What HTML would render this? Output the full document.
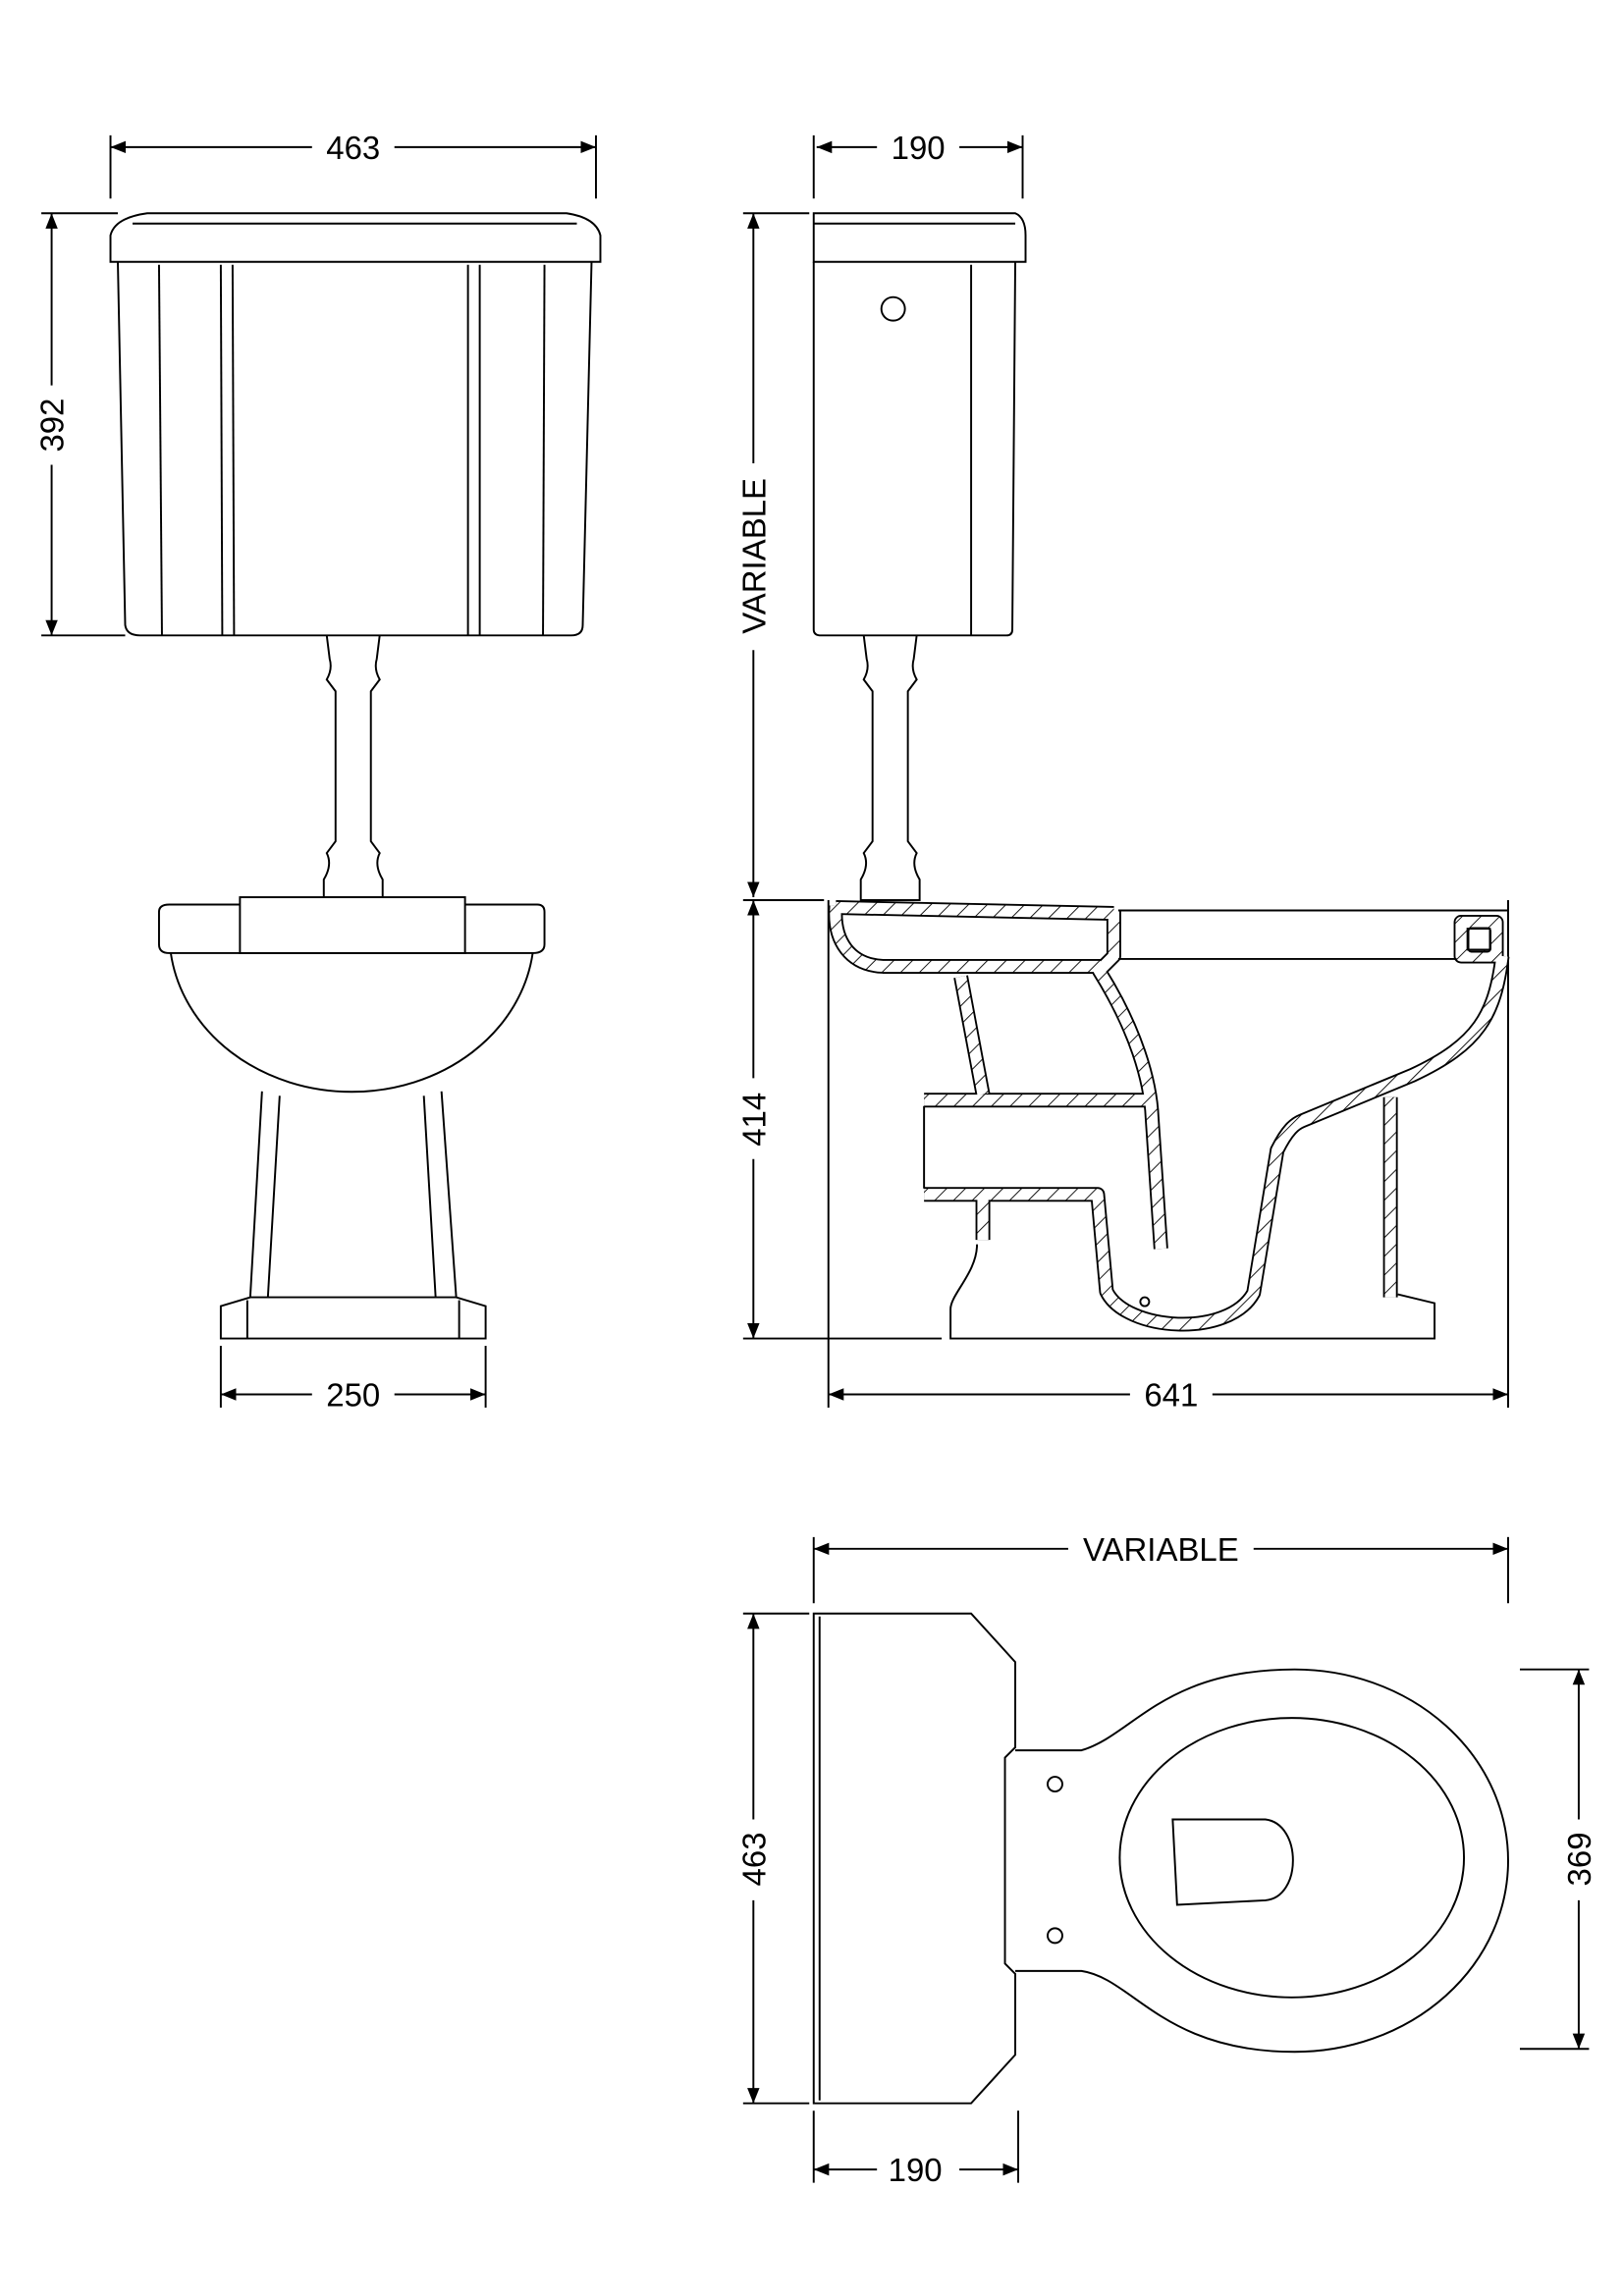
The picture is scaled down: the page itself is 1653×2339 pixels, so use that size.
<!DOCTYPE html>
<html><head><meta charset="utf-8"><style>html,body{margin:0;padding:0;background:#fff}svg{display:block}</style></head>
<body>
<svg width="1653" height="2339" viewBox="0 0 1103 1561" xmlns="http://www.w3.org/2000/svg" font-family="Liberation Sans, sans-serif" font-size="22">
<defs>
<pattern id="h" width="9" height="9" patternUnits="userSpaceOnUse" patternTransform="rotate(45)">
<rect width="9" height="9" fill="#fff"/><line x1="0" y1="0" x2="0" y2="9" stroke="#000" stroke-width="1.2"/>
</pattern>
<marker id="a" viewBox="0 0 10 10" refX="10" refY="5" markerWidth="8" markerHeight="8" orient="auto-start-reverse"><path d="M0,1 L10,5 L0,9" fill="#000"/></marker>
</defs>
<g fill="none" stroke="#000" stroke-width="1.3">
<!-- dimension lines -->
<g marker-start="url(#a)" marker-end="url(#a)">
<line x1="75" y1="100" x2="212" y2="100" marker-end="none"/><line x1="268" y1="100" x2="405" y2="100" marker-start="none"/>
<line x1="35" y1="145" x2="35" y2="262" marker-end="none"/><line x1="35" y1="316" x2="35" y2="432" marker-start="none"/>
<line x1="150" y1="948" x2="212" y2="948" marker-end="none"/><line x1="268" y1="948" x2="330" y2="948" marker-start="none"/>
<line x1="555" y1="100" x2="596" y2="100" marker-end="none"/><line x1="652" y1="100" x2="695" y2="100" marker-start="none"/>
<line x1="512" y1="145" x2="512" y2="315" marker-end="none"/><line x1="512" y1="442" x2="512" y2="610" marker-start="none"/>
<line x1="512" y1="612" x2="512" y2="733" marker-end="none"/><line x1="512" y1="788" x2="512" y2="910" marker-start="none"/>
<line x1="563" y1="948" x2="768" y2="948" marker-end="none"/><line x1="824" y1="948" x2="1025" y2="948" marker-start="none"/>
<line x1="553" y1="1053" x2="726" y2="1053" marker-end="none"/><line x1="852" y1="1053" x2="1025" y2="1053" marker-start="none"/>
<line x1="512" y1="1097" x2="512" y2="1237" marker-end="none"/><line x1="512" y1="1292" x2="512" y2="1430" marker-start="none"/>
<line x1="1073" y1="1135" x2="1073" y2="1237" marker-end="none"/><line x1="1073" y1="1292" x2="1073" y2="1393" marker-start="none"/>
<line x1="553" y1="1475" x2="596" y2="1475" marker-end="none"/><line x1="652" y1="1475" x2="692" y2="1475" marker-start="none"/>
</g>
<!-- extension lines -->
<line x1="75" y1="92" x2="75" y2="135"/><line x1="405" y1="92" x2="405" y2="135"/>
<line x1="28" y1="145" x2="80" y2="145"/><line x1="28" y1="432" x2="85" y2="432"/>
<line x1="150" y1="915" x2="150" y2="957"/><line x1="330" y1="915" x2="330" y2="957"/>
<line x1="553" y1="92" x2="553" y2="135"/><line x1="695" y1="92" x2="695" y2="135"/>
<line x1="505" y1="145" x2="550" y2="145"/><line x1="505" y1="612" x2="560" y2="612"/>
<line x1="505" y1="910" x2="640" y2="910"/>
<line x1="563" y1="612" x2="563" y2="957"/><line x1="1025" y1="612" x2="1025" y2="957"/>
<line x1="553" y1="1045" x2="553" y2="1090"/><line x1="1025" y1="1045" x2="1025" y2="1090"/>
<line x1="505" y1="1097" x2="550" y2="1097"/><line x1="505" y1="1430" x2="550" y2="1430"/>
<line x1="1033" y1="1135" x2="1080" y2="1135"/><line x1="1033" y1="1393" x2="1080" y2="1393"/>
<line x1="553" y1="1435" x2="553" y2="1484"/><line x1="692" y1="1435" x2="692" y2="1484"/>

<!-- FRONT: cistern -->
<path d="M75,160 Q78,148 100,145 L385,145 Q405,148 408,160 L408,178 L75,178 Z"/>
<line x1="90" y1="152" x2="392" y2="152"/>
<path d="M80,178 L85,425 Q86,432 95,432 L388,432 Q396,432 396,425 L402,178"/>
<line x1="108" y1="180" x2="110" y2="432"/><line x1="150" y1="180" x2="151" y2="432"/><line x1="158" y1="180" x2="159" y2="432"/>
<line x1="318" y1="180" x2="318" y2="432"/><line x1="326" y1="180" x2="326" y2="432"/><line x1="370" y1="180" x2="369" y2="432"/>
<!-- pipe front -->
<path d="M222,432 L224,448 Q226,455 222,462 L228,470 L228,572 L222,580 Q226,588 220,598 L220,610 L260,610 L260,598 Q254,588 258,580 L252,572 L252,470 L258,462 Q254,455 256,448 L258,432"/>
<!-- bowl front -->
<path d="M108,620 Q108,615 115,615 L365,615 Q370,615 370,620 L370,642 Q370,648 362,648 L115,648 Q108,648 108,642 Z"/>
<rect x="163" y="610" width="153" height="38" fill="#fff"/>
<path d="M116,648 A124,108 0 0 0 362,648"/>
<path d="M178,742 L170,882 M190,745 L182,882 M288,745 L296,882 M300,742 L310,882"/>
<path d="M150,910 L150,888 L170,882 L310,882 L330,888 L330,910 Z"/><line x1="168" y1="884" x2="168" y2="910"/><line x1="312" y1="884" x2="312" y2="910"/>

<!-- SIDE: cistern -->
<path d="M553,145 L690,145 Q697,148 697,160 L697,178 L553,178 Z"/><line x1="553" y1="152" x2="690" y2="152"/>
<path d="M553,178 L553,428 Q553,432 558,432 L684,432 Q688,432 688,428 L690,178"/>
<line x1="660" y1="180" x2="660" y2="432"/>
<circle cx="607" cy="210" r="8"/>
<path d="M587,432 L589,448 Q591,455 587,462 L593,470 L593,572 L587,580 Q591,588 585,598 L585,612 L625,612 L625,598 Q619,588 623,580 L617,572 L617,470 L623,462 Q619,455 621,448 L623,432"/>

<!-- SIDE: pan section -->
<g stroke="#000" stroke-width="10" stroke-linejoin="round">
<path d="M568,617 L757,621"/>
<path d="M568,616 C566,640 578,656 600,657 L748,657"/>
<path d="M757,619 L757,650 L747,660 C772,700 782,735 783,760 L789,849"/>
<path d="M653,664 L668,744"/>
<path d="M628,748 L781,748"/>
<path d="M628,812 L746,812 L752,878 C765,905 835,910 852,879 L868,782 C875,768 880,764 885,762 L960,731 C1005,710 1016,690 1021,650"/>
<path d="M668,812 L668,843"/>
<path d="M945,746 L945,882"/>
<path d="M993,627 L1017,627 L1017,650 L993,650 Z"/>
</g>
<g stroke="url(#h)" stroke-width="7.5" stroke-linejoin="round">
<path d="M568,617 L757,621"/>
<path d="M568,616 C566,640 578,656 600,657 L748,657"/>
<path d="M757,619 L757,650 L747,660 C772,700 782,735 783,760 L789,849"/>
<path d="M653,664 L668,744"/>
<path d="M628,748 L781,748"/>
<path d="M628,812 L746,812 L752,878 C765,905 835,910 852,879 L868,782 C875,768 880,764 885,762 L960,731 C1005,710 1016,690 1021,650"/>
<path d="M668,812 L668,843"/>
<path d="M945,746 L945,882"/>
<path d="M993,627 L1017,627 L1017,650 L993,650 Z"/>
</g>
<rect x="998" y="631" width="15" height="16" rx="2"/>
<path d="M760,619 L1025,619 M760,652 L990,652"/>
<line x1="628" y1="752" x2="628" y2="808"/>
<path d="M664,846 C664,865 646,880 646,890 L646,910 L975,910 L975,886 L950,880"/>
<circle cx="778" cy="885" r="3"/>

<!-- PLAN -->
<path d="M553,1097 L660,1097 L690,1130 L690,1188 L683,1195 L683,1335 L690,1342 L690,1397 L660,1430 L553,1430 Z"/>
<line x1="557" y1="1099" x2="557" y2="1428"/>
<path d="M690,1190 L735,1190 C770,1180 790,1135 880,1135 A145,130 0 0 1 880,1395 C790,1395 770,1345 735,1340 L690,1340"/>
<ellipse cx="878" cy="1263" rx="117" ry="95"/>
<path d="M797,1237 L860,1237 C885,1240 885,1290 860,1292 L800,1295 Z"/>
<circle cx="717" cy="1213" r="5"/><circle cx="717" cy="1316" r="5"/>
</g>
<g fill="#000" stroke="none" text-anchor="middle">
<text x="240" y="108">463</text>
<text x="240" y="956">250</text>
<text x="624" y="108">190</text>
<text x="796" y="956">641</text>
<text x="789" y="1061">VARIABLE</text>
<text x="622" y="1483">190</text>
<text transform="translate(43,289) rotate(-90)">392</text>
<text transform="translate(520,378) rotate(-90)">VARIABLE</text>
<text transform="translate(520,761) rotate(-90)">414</text>
<text transform="translate(520,1264) rotate(-90)">463</text>
<text transform="translate(1081,1264) rotate(-90)">369</text>
</g>
</svg>
</body></html>
